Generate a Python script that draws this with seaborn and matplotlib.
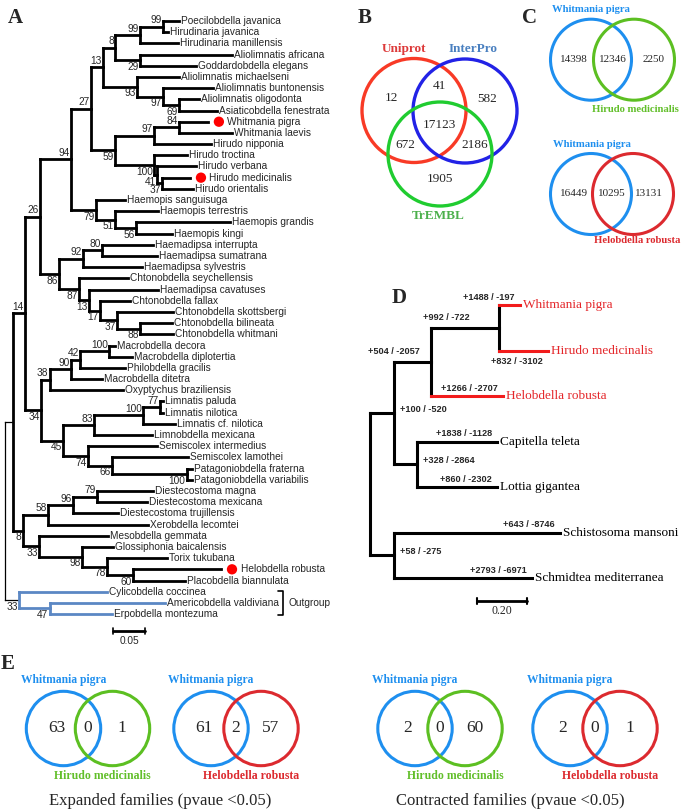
import numpy as np
import pandas as pd
import matplotlib
matplotlib.use("Agg")
import matplotlib.pyplot as plt
import seaborn as sns
from matplotlib.patches import Circle
from matplotlib import font_manager

# ---------------- data ----------------
# panel A: leech phylogeny, newick clades with node depth (subst./site from root) and bootstrap
a_hirudinidae = ("(((((Poecilobdella javanica:0.272,Hirudinaria javanica:0.255)99:0.247,Hirudinaria manillensis:0.270)99:0.211,"
                 "(Aliolimnatis africana:0.355,Goddardobdella elegans:0.298)29:0.211)8:0.172,"
                 "(Aliolimnatis michaelseni:0.272,(Aliolimnatis buntonensis:0.325,(Aliolimnatis oligodonta:0.303,"
                 "Asiaticobdella fenestrata:0.331)69:0.272)97:0.247)93:0.206)13:0.153,"
                 "(((Whitmania pigra:0.317,Whitmania laevis:0.355)84:0.272,Hirudo nipponia:0.322)97:0.233,"
                 "(Hirudo troctina:0.284,(Hirudo verbana:0.298,(Hirudo medicinalis:0.289,Hirudo orientalis:0.294)37:0.245)41:0.238)100:0.233)59:0.172)27:0.134")
a_haemopidae = "(Haemopis sanguisuga:0.1875,(Haemopis terrestris:0.239,(Haemopis grandis:0.352,Haemopis kingi:0.261)56:0.205)51:0.172)79:0.142"
a_haemadipsidae = ("(((Haemadipsa interrupta:0.231,Haemadipsa sumatrana:0.2375)80:0.152,Haemadipsa sylvestris:0.214)92:0.122,"
                   "(Chtonobdella seychellensis:0.192,(Haemadipsa cavatuses:0.239,(Chtonobdella fallax:0.195,"
                   "(Chtonobdella skottsbergi:0.2625,(Chtonobdella bilineata:0.261,Chtonobdella whitmani:0.2625)88:0.211)37:0.175)17:0.148)13:0.131)87:0.116)86:0.084")
a_macrobdellidae = ("((((Macrobdella decora:0.172,Macrobdella diplotertia:0.198)100:0.1625,Philobdella gracilis:0.1875)42:0.117,"
                    "Macrobdella ditetra:0.152)90:0.103,Oxyptychus braziliensis:0.184)38:0.070")
a_praobdellidae = ("((((Limnatis paluda:0.247,Limnatis nilotica:0.247)77:0.242,Limnatis cf. nilotica:0.266)100:0.216,Limnobdella mexicana:0.230)83:0.139,"
                   "(Semiscolex intermedius:0.2375,(Semiscolex lamothei:0.286,(Patagoniobdella fraterna:0.292,"
                   "Patagoniobdella variabilis:0.292)100:0.284)66:0.167)74:0.130)45:0.091")
a_xerobdellidae = "(((Diestecostoma magna:0.231,Diestecostoma mexicana:0.222)79:0.144,Diestecostoma trujillensis:0.177)96:0.106,Xerobdella lecomtei:0.223)58:0.067"
a_glossiphoniidae = ("(Mesobdella gemmata:0.161,(Glossiphonia baicalensis:0.169,(Torix tukubana:0.253,"
                     "(Helobdella robusta:0.3375,Placobdella biannulata:0.281)60:0.200)78:0.159)98:0.120)33:0.053")
a_outgroup = "(Cylicobdella coccinea:0.159,(Americobdella valdiviana:0.250,Erpobdella montezuma:0.167)47:0.070)33:0.022"
a_genomes = ["Whitmania pigra", "Hirudo medicinalis", "Helobdella robusta"]
a_outgroup_taxa = ["Cylicobdella coccinea", "Americobdella valdiviana", "Erpobdella montezuma"]

# panel B: annotation overlap (Uniprot, InterPro, TrEMBL)
b_sets = ["Uniprot", "InterPro", "TrEMBL"]
b_only = [12, 582, 1905]
b_pairs = [41, 672, 2186]  # U&I, U&T, I&T
b_all = 17123

# panel C: shared gene families
c_top = [14398, 12346, 2250]
c_bottom = [16449, 10295, 13131]

# panel D: gene family expansion / contraction
d_newick = ("((((Whitmania pigra:0.593,Hirudo medicinalis:0.702)N3:0.510,Helobdella robusta:0.524)N2:0.240,"
            "(Capitella teleta:0.503,Lottia gigantea:0.503)N4:0.185)N1:0.095,"
            "(Schistosoma mansoni:0.751,Schmidtea mediterranea:0.639)N5:0.095):0")
d_species = ["Whitmania pigra", "Hirudo medicinalis", "Helobdella robusta", "Capitella teleta",
             "Lottia gigantea", "Schistosoma mansoni", "Schmidtea mediterranea"]
d_gain = [1488, 832, 1266, 1838, 860, 643, 2793]
d_loss = [197, 3102, 2707, 1128, 2302, 8746, 6971]
d_nodes = ["N1", "N2", "N3", "N4", "N5"]
d_node_gain = [100, 504, 992, 328, 58]
d_node_loss = [520, 2057, 722, 2864, 275]
d_leeches = ["Whitmania pigra", "Hirudo medicinalis", "Helobdella robusta"]

# panel E: expanded / contracted families (pvalue < 0.05)
e_exp_hm = [63, 0, 1]
e_exp_hr = [61, 2, 57]
e_con_hm = [2, 0, 60]
e_con_hr = [2, 0, 1]

# ---------------- helpers ----------------
def parse_newick(s):
    pos = 0
    def read():
        nonlocal pos
        kids = []
        if s[pos] == "(":
            pos += 1
            kids.append(read())
            while s[pos] == ",":
                pos += 1
                kids.append(read())
            pos += 1
        start = pos
        while pos < len(s) and s[pos] not in ":,();":
            pos += 1
        label = s[start:pos].strip()
        depth = 0.0
        if pos < len(s) and s[pos] == ":":
            pos += 1
            start = pos
            while pos < len(s) and s[pos] not in ",();":
                pos += 1
            depth = float(s[start:pos])
        return {"label": label, "depth": depth, "children": kids}
    return read()

def layout(node, counter):
    if not node["children"]:
        node["y"] = counter[0]
        counter[0] += 1
    else:
        for c in node["children"]:
            layout(c, counter)
        node["y"] = (node["children"][0]["y"] + node["children"][-1]["y"]) / 2

def walk(node):
    yield node
    for c in node["children"]:
        yield from walk(c)

def leaf_names(node):
    if not node["children"]:
        return [node["label"]]
    return sum((leaf_names(c) for c in node["children"]), [])

def px_axes(fig, x0, y0, x1, y1):
    return fig.add_axes([x0 / 685, 1 - y1 / 810, (x1 - x0) / 685, (y1 - y0) / 810])

sns.set_theme(style="white")
plt.rcParams["font.family"] = ["Liberation Sans", "DejaVu Sans"]
SERIF = "Liberation Serif"
avail = {f.name for f in font_manager.fontManager.ttflist}
if "Liberation Sans Narrow" in avail:
    d_font = dict(family="Liberation Sans Narrow", fontsize=7.8, fontweight="bold")
else:
    d_font = dict(family="Liberation Sans", fontsize=6.6, fontweight="bold")

fig = plt.figure(figsize=(6.85, 8.1), dpi=100)
fig.patch.set_facecolor("white")

# overlay axes in pixel units for venns and panel letters
ov = fig.add_axes([0, 0, 1, 1])
ov.set_xlim(0, 685)
ov.set_ylim(810, 0)
ov.axis("off")

# ---------------- panel A ----------------
a_blue = "#5b87c4"
fsA = 7.3
a_newick = ("(((((" + a_hirudinidae + "," + a_haemopidae + ")94:0.103," + a_haemadipsidae + ")26:0.055,("
            + a_macrobdellidae + "," + a_praobdellidae + ")34:0.056)14:0.031,(" + a_xerobdellidae + ","
            + a_glossiphoniidae + ")8:0.028):0.0125," + a_outgroup + "):0")
rootA = parse_newick(a_newick)
layout(rootA, [0])

axA = px_axes(fig, 0, 0, 320, 650)
axA.axis("off")

def is_out(n):
    return all(x in a_outgroup_taxa for x in leaf_names(n))

for n in walk(rootA):
    if not n["children"]:
        continue
    root = n is rootA
    lw = 0.9 if root else 2.0
    col = a_blue if (is_out(n) and not root) else "black"
    ys = [c["y"] for c in n["children"]]
    axA.plot([n["depth"]] * 2, [min(ys), max(ys)], color=col, lw=lw, solid_capstyle="projecting")
    for i, c in enumerate(n["children"]):
        ccol = a_blue if (is_out(c) and not root) else "black"
        axA.plot([n["depth"], c["depth"]], [c["y"]] * 2, color=ccol, lw=lw, solid_capstyle="projecting")
        if c["children"] and c["label"]:
            if i == 0:
                axA.text(c["depth"] - 0.002, c["y"] - 0.12, c["label"], ha="right", va="bottom", fontsize=fsA)
            else:
                axA.text(c["depth"] - 0.002, c["y"] + 0.15, c["label"], ha="right", va="top", fontsize=fsA)

leavesA = [n for n in walk(rootA) if not n["children"]]
dot_x, dot_y = [], []
for lf in leavesA:
    if lf["label"] in a_genomes:
        dot_x.append(lf["depth"] + 0.0172)
        dot_y.append(lf["y"])
        axA.text(lf["depth"] + 0.0305, lf["y"], lf["label"], ha="left", va="center", fontsize=fsA)
    else:
        axA.text(lf["depth"] + 0.003, lf["y"], lf["label"], ha="left", va="center", fontsize=fsA)
sns.scatterplot(x=dot_x, y=dot_y, color="#ff0000", s=55, edgecolor="none", ax=axA, zorder=5, legend=False)

# outgroup bracket
out_y = [lf["y"] for lf in leavesA if lf["label"] in a_outgroup_taxa]
axA.plot([0.426, 0.434, 0.434, 0.426], [min(out_y) - 0.1, min(out_y) - 0.1, max(out_y) + 0.1, max(out_y) + 0.1],
         color="black", lw=1.2)
axA.text(0.443, np.mean(out_y), "Outgroup", ha="left", va="center", fontsize=fsA)

# scale bar
sb_y = max(out_y) + 1.5
axA.plot([0.169, 0.219], [sb_y, sb_y], color="black", lw=2)
for xx in (0.169, 0.219):
    axA.plot([xx, xx], [sb_y - 0.3, sb_y + 0.3], color="black", lw=1.2)
axA.text(0.194, sb_y + 0.45, "0.05", ha="center", va="top", fontsize=fsA)
axA.set_xlim(-5 / 640, 315 / 640)
axA.set_ylim(56.21, -1.877)

# ---------------- panel B ----------------
b_centers = np.array([[414, 110.5], [465, 111], [440, 154]])
b_r = 52
b_cols = ["#f83a26", "#2222e6", "#20cc30"]
b_lab_cols = ["#dd3a3a", "#4a80c0", "#4cb04c"]
for (cx, cy), col in zip(b_centers, b_cols):
    ov.add_patch(Circle((cx, cy), b_r, fill=False, ec=col, lw=2.4))

def region_pos(members, centers, alpha=0.58):
    inside = centers[[i for i in range(3) if members[i]]].mean(axis=0)
    if all(members):
        return inside
    outside = centers[[i for i in range(3) if not members[i]]].mean(axis=0)
    return inside + alpha * (inside - outside)

b_regions = [((1, 0, 0), b_only[0]), ((0, 1, 0), b_only[1]), ((0, 0, 1), b_only[2]),
             ((1, 1, 0), b_pairs[0]), ((1, 0, 1), b_pairs[1]), ((0, 1, 1), b_pairs[2]), ((1, 1, 1), b_all)]
for mem, val in b_regions:
    px, py = region_pos(mem, b_centers)
    ov.text(px, py, str(val), ha="center", va="center", family=SERIF, fontsize=9.5)
ov.text(404, 49, b_sets[0], ha="center", va="center", family=SERIF, fontsize=9.5, fontweight="bold", color=b_lab_cols[0])
ov.text(473, 49, b_sets[1], ha="center", va="center", family=SERIF, fontsize=9.5, fontweight="bold", color=b_lab_cols[1])
ov.text(438, 216, b_sets[2], ha="center", va="center", family=SERIF, fontsize=9.5, fontweight="bold", color=b_lab_cols[2])

# ---------------- venn2 helper (panels C, E) ----------------
blue_c, green_c, red_c = "#1e8fef", "#5cbf22", "#dc2a2f"

def venn2(c1, c2, cy, r, counts, col2, fs, k_left, k_right, lw=2.2):
    ov.add_patch(Circle((c1, cy), r, fill=False, ec=blue_c, lw=lw))
    ov.add_patch(Circle((c2, cy), r, fill=False, ec=col2, lw=lw))
    d = c2 - c1
    xs = [c1 - k_left * d, (c1 + c2) / 2, c2 + k_right * d]
    for x, v in zip(xs, counts):
        ov.text(x, cy - 0.5, str(v), ha="center", va="center", family=SERIF, fontsize=fs)

# panel C
venn2(591, 634, 59.7, 40.5, c_top, green_c, 8, 0.40, 0.45)
venn2(591, 633, 194, 40.5, c_bottom, red_c, 8, 0.40, 0.37)
lab = dict(ha="center", va="center", family=SERIF, fontsize=7.7, fontweight="bold")
ov.text(591, 9.5, "Whitmania pigra", color=blue_c, **lab)
ov.text(635.5, 109.5, "Hirudo medicinalis", color="#62bf2a", **lab)
ov.text(591.5, 144.5, "Whitmania pigra", color=blue_c, **lab)
ov.text(637, 240.5, "Helobdella robusta", color=red_c, **lab)

# panel E
e_sets = [(63.5, 112.5, e_exp_hm, green_c, "Hirudo medicinalis", "#62bf2a"),
          (211, 261, e_exp_hr, red_c, "Helobdella robusta", red_c),
          (415, 465, e_con_hm, green_c, "Hirudo medicinalis", "#62bf2a"),
          (570, 620, e_con_hr, red_c, "Helobdella robusta", red_c)]
for c1, c2, vals, col2, name2, lcol in e_sets:
    venn2(c1, c2, 728.5, 37.2, vals, col2, 12.5, 0.14, 0.2)
    ov.text(c1, 680.5, "Whitmania pigra", ha="center", va="center", family=SERIF, fontsize=8.3,
            fontweight="bold", color=blue_c)
    ov.text(c2 - 10, 776, name2, ha="center", va="center", family=SERIF, fontsize=8.5,
            fontweight="bold", color=lcol)
ov.text(160, 801, "Expanded families (pvaue <0.05)", ha="center", va="center", family=SERIF, fontsize=12)
ov.text(510, 801, "Contracted families (pvaue <0.05)", ha="center", va="center", family=SERIF, fontsize=12)

# ---------------- panel D ----------------
rootD = parse_newick(d_newick)
layout(rootD, [0])
axD = px_axes(fig, 330, 280, 685, 620)
axD.axis("off")
d_red = "#f21c1c"
node_text = {n: f"+{g} / -{l}" for n, g, l in zip(d_nodes, d_node_gain, d_node_loss)}
leaf_text = {s: f"+{g} / -{l}" for s, g, l in zip(d_species, d_gain, d_loss)}
above_nodes = ["N2", "N3"]
for n in walk(rootD):
    if not n["children"]:
        continue
    ys = [c["y"] for c in n["children"]]
    axD.plot([n["depth"]] * 2, [min(ys), max(ys)], color="black", lw=2.2, solid_capstyle="projecting")
    for c in n["children"]:
        col = d_red if c["label"] in d_leeches else "black"
        axD.plot([n["depth"], c["depth"]], [c["y"]] * 2, color=col, lw=2.2, solid_capstyle="projecting")
        if c["label"] in node_text:
            if c["label"] in above_nodes:
                axD.text((n["depth"] + c["depth"]) / 2 - 0.075, c["y"] - 0.22, node_text[c["label"]],
                         ha="center", va="center", **d_font)
            else:
                axD.text(c["depth"] + 0.025, c["y"] - 0.08, node_text[c["label"]], ha="left", va="center", **d_font)
for lf in [n for n in walk(rootD) if not n["children"]]:
    name = lf["label"]
    col = "#e4262a" if name in d_leeches else "black"
    axD.text(lf["depth"] + 0.012, lf["y"], name, ha="left", va="center", family=SERIF, fontsize=9.5, color=col)
    if name == "Hirudo medicinalis":
        axD.text(lf["depth"] - 0.02, lf["y"] + 0.25, leaf_text[name], ha="right", va="center", **d_font)
    else:
        axD.text(lf["depth"] - 0.02, lf["y"] - 0.17, leaf_text[name], ha="right", va="center", **d_font)
axD.plot([0.422, 0.622], [6.5, 6.5], color="black", lw=2)
for xx in (0.422, 0.622):
    axD.plot([xx, xx], [6.43, 6.57], color="black", lw=1.5)
axD.text(0.522, 6.6, "0.20", ha="center", va="top", family=SERIF, fontsize=8.5)
axD.set_xlim((330 - 370) / 253, (685 - 370) / 253)
axD.set_ylim((620 - 305) / 45.5, (280 - 305) / 45.5)

# ---------------- panel letters ----------------
for letter, (x, y) in zip("ABCDE", [(15, 18), (365, 18), (530, 18), (399, 298), (8, 664)]):
    ov.text(x, y, letter, ha="center", va="center", family=SERIF, fontsize=15, fontweight="bold")

fig.savefig("out.png", dpi=100)
